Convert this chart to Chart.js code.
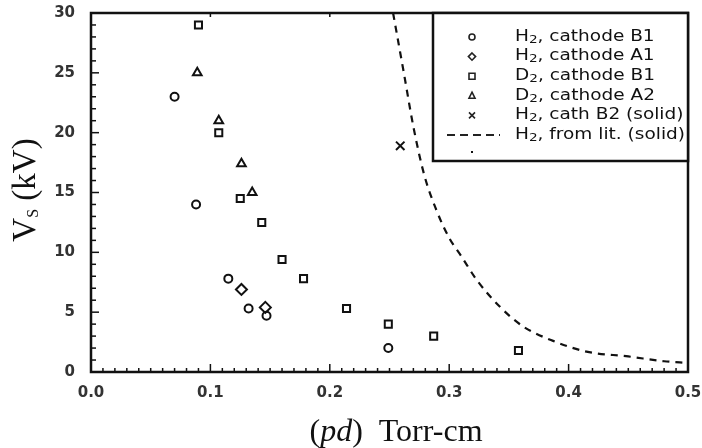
<!DOCTYPE html>
<html>
<head>
<meta charset="utf-8">
<script src="https://cdn.jsdelivr.net/npm/chart.js@4"></script>
<style>
    body { margin: 0; background: #fff; }
    canvas { display: block; }
</style>
</head>
<body>
<canvas id="chart" width="702" height="448"></canvas>
<script>
// values: (pd) in Torr-cm, Vs in kV
const h2B1X = [0.07, 0.088, 0.115, 0.132, 0.147, 0.249];
const h2B1Y = [23, 14, 7.8, 5.3, 4.7, 2.0];
const h2A1X = [0.126, 0.146];
const h2A1Y = [6.9, 5.4];
const d2B1X = [0.09, 0.107, 0.125, 0.143, 0.16, 0.178, 0.214, 0.249, 0.287, 0.358];
const d2B1Y = [29, 20, 14.5, 12.5, 9.4, 7.8, 5.3, 4.0, 3.0, 1.8];
const d2A2X = [0.089, 0.107, 0.126, 0.135];
const d2A2Y = [25, 21, 17.4, 15];
const h2B2X = [0.259];
const h2B2Y = [18.9];
const litX = [0.253, 0.262, 0.27, 0.279, 0.289, 0.3, 0.31, 0.323, 0.343, 0.362, 0.387, 0.415, 0.45, 0.48, 0.5];
const litY = [30, 25, 20.5, 16.5, 13.6, 11.2, 9.7, 7.7, 5.4, 3.8, 2.6, 1.7, 1.3, 0.9, 0.75];

const xTicks = [0, 0.1, 0.2, 0.3, 0.4, 0.5];
const yTicks = [0, 5, 10, 15, 20, 25, 30];

const legendRows = [
    { sym: 'circle', pre: 'H', sub: '2', post: ', cathode B1' },
    { sym: 'diamond', pre: 'H', sub: '2', post: ', cathode A1' },
    { sym: 'square', pre: 'D', sub: '2', post: ', cathode B1' },
    { sym: 'triangle', pre: 'D', sub: '2', post: ', cathode A2' },
    { sym: 'cross', pre: 'H', sub: '2', post: ', cath B2 (solid)' },
    { sym: 'dash', pre: 'H', sub: '2', post: ', from lit. (solid)' }
];

const pts = (xs, ys) => xs.map((x, i) => ({ x: x, y: ys[i] }));

const markerBase = {
    showLine: false,
    borderColor: '#111',
    backgroundColor: 'rgba(255,255,255,0)',
    borderWidth: 2,
    pointRadius: 4.5
};

function drawSymbol(ctx, sym, x, y, r) {
    ctx.beginPath();
    if (sym === 'circle') {
        ctx.arc(x, y, r, 0, Math.PI * 2);
    } else if (sym === 'diamond') {
        ctx.moveTo(x, y - r * 1.2); ctx.lineTo(x + r * 1.2, y);
        ctx.lineTo(x, y + r * 1.2); ctx.lineTo(x - r * 1.2, y); ctx.closePath();
    } else if (sym === 'square') {
        ctx.rect(x - r, y - r, r * 2, r * 2);
    } else if (sym === 'triangle') {
        ctx.moveTo(x, y - r * 1.2); ctx.lineTo(x + r, y + r * 0.8);
        ctx.lineTo(x - r, y + r * 0.8); ctx.closePath();
    } else if (sym === 'cross') {
        ctx.moveTo(x - r, y - r); ctx.lineTo(x + r, y + r);
        ctx.moveTo(x + r, y - r); ctx.lineTo(x - r, y + r);
    }
    ctx.stroke();
}

// draw a piece list [text, font, dy] left to right starting at x
function drawPieces(ctx, pieces, x, y) {
    pieces.forEach(p => {
        ctx.font = p[1];
        ctx.fillText(p[0], x, y + (p[2] || 0));
        x += ctx.measureText(p[0]).width;
    });
    return x;
}

function piecesWidth(ctx, pieces) {
    let w = 0;
    pieces.forEach(p => { ctx.font = p[1]; w += ctx.measureText(p[0]).width; });
    return w;
}

// frame, inward ticks, axis titles and the boxed legend
const framePlugin = {
    id: 'frame',
    afterDatasetsDraw(chart) {
        const ctx = chart.ctx;
        const a = chart.chartArea;
        const xs = chart.scales.x, ys = chart.scales.y;
        ctx.save();
        ctx.strokeStyle = '#111';

        // minor/major ticks
        ctx.lineWidth = 1.5;
        for (let i = 1; i < 50; i++) {
            const px = xs.getPixelForValue(i / 100);
            const len = i % 10 === 0 ? 8 : 4;
            ctx.beginPath(); ctx.moveTo(px, a.bottom); ctx.lineTo(px, a.bottom - len); ctx.stroke();
            if (i % 10 === 0) {
                ctx.beginPath(); ctx.moveTo(px, a.top); ctx.lineTo(px, a.top + 4); ctx.stroke();
            }
        }
        for (let i = 1; i < 30; i++) {
            const py = ys.getPixelForValue(i);
            const len = i % 5 === 0 ? 8 : 5;
            ctx.beginPath(); ctx.moveTo(a.left, py); ctx.lineTo(a.left + len, py); ctx.stroke();
        }

        ctx.lineWidth = 2.5;
        ctx.strokeRect(a.left, a.top, a.right - a.left, a.bottom - a.top);

        // legend box
        const bx = a.right - 255;
        const by = a.top, bw = 255, bh = 148;
        ctx.fillStyle = '#fff';
        ctx.fillRect(bx, by, bw, bh);
        ctx.strokeRect(bx, by, bw, bh);

        ctx.fillStyle = '#111';
        ctx.textBaseline = 'middle';
        const symX = bx + 39, textX = bx + 82;
        const big = '15px "DejaVu Sans"', small = '11px "DejaVu Sans"';
        const longest = piecesWidth(ctx, [['H', big], ['2', small], [', from lit. (solid)', big]]);
        const sx = 170 / longest;
        legendRows.forEach((row, i) => {
            const y = by + 24 + i * 19.6;
            ctx.lineWidth = 1.6;
            ctx.strokeStyle = '#222';
            if (row.sym === 'dash') {
                ctx.setLineDash([8, 5]);
                ctx.lineWidth = 2;
                ctx.beginPath(); ctx.moveTo(bx + 14, y); ctx.lineTo(bx + 67, y); ctx.stroke();
                ctx.setLineDash([]);
            } else {
                drawSymbol(ctx, row.sym, symX, y, 3);
            }
            ctx.save();
            ctx.translate(textX, y);
            ctx.scale(sx, 1);
            drawPieces(ctx, [[row.pre, big], [row.sub, small, 3], [row.post, big]], 0, 0);
            ctx.restore();
        });
        ctx.fillRect(symX - 1, by + 138, 2, 2);

        // axis titles
        ctx.fillStyle = '#111';
        ctx.textBaseline = 'alphabetic';
        const xt = [['(', '32px "Liberation Serif"'], ['pd', 'italic 32px "Liberation Serif"'], [')  Torr-cm', '32px "Liberation Serif"']];
        const xw = piecesWidth(ctx, xt);
        drawPieces(ctx, xt, 396 - xw / 2, 441);

        ctx.translate(35, 190);
        ctx.rotate(-Math.PI / 2);
        const yt = [['V', '33px "Liberation Serif"'], ['S', '16px "Liberation Serif"', 3], [' (kV)', '33px "Liberation Serif"']];
        const yw = piecesWidth(ctx, yt);
        drawPieces(ctx, yt, -yw / 2, 0);
        ctx.restore();
    }
};

const tickFont = { family: '"DejaVu Sans"', size: 15, weight: 'bold' };

new Chart(document.getElementById('chart'), {
    type: 'scatter',
    data: {
        datasets: [
            { ...markerBase, label: 'H2, cathode B1', data: pts(h2B1X, h2B1Y), pointStyle: 'circle', pointRadius: 4 },
            { ...markerBase, label: 'H2, cathode A1', data: pts(h2A1X, h2A1Y), pointStyle: 'rectRot', pointRadius: 5.5 },
            { ...markerBase, label: 'D2, cathode B1', data: pts(d2B1X, d2B1Y), pointStyle: 'rect', pointRadius: 5 },
            { ...markerBase, label: 'D2, cathode A2', data: pts(d2A2X, d2A2Y), pointStyle: 'triangle', pointRadius: 5 },
            { ...markerBase, label: 'H2, cath B2 (solid)', data: pts(h2B2X, h2B2Y), pointStyle: 'crossRot', pointRadius: 6 },
            {
                label: 'H2, from lit. (solid)',
                data: pts(litX, litY),
                showLine: true,
                borderColor: '#111',
                borderWidth: 2.2,
                borderDash: [7, 6],
                pointRadius: 0,
                cubicInterpolationMode: 'monotone',
                clip: 2
            }
        ]
    },
    options: {
        responsive: false,
        animation: false,
        layout: { padding: { top: 13, right: 14, left: 0, bottom: 0 } },
        plugins: { legend: { display: false }, tooltip: { enabled: false } },
        scales: {
            x: {
                type: 'linear', min: 0, max: 0.5,
                afterBuildTicks: s => { s.ticks = xTicks.map(v => ({ value: v })); },
                afterFit: s => { s.height = 76; s.paddingLeft = 0; s.paddingRight = 0; },
                grid: { display: false },
                border: { display: false },
                ticks: { callback: v => v.toFixed(1), font: tickFont, color: '#333', padding: 4, maxRotation: 0 }
            },
            y: {
                type: 'linear', min: 0, max: 30,
                afterBuildTicks: s => { s.ticks = yTicks.map(v => ({ value: v })); },
                afterFit: s => { s.width = 91; s.paddingTop = 0; s.paddingBottom = 0; },
                grid: { display: false },
                border: { display: false },
                ticks: { font: tickFont, color: '#333', padding: 8 }
            }
        }
    },
    plugins: [framePlugin]
});
</script>
</body>
</html>
